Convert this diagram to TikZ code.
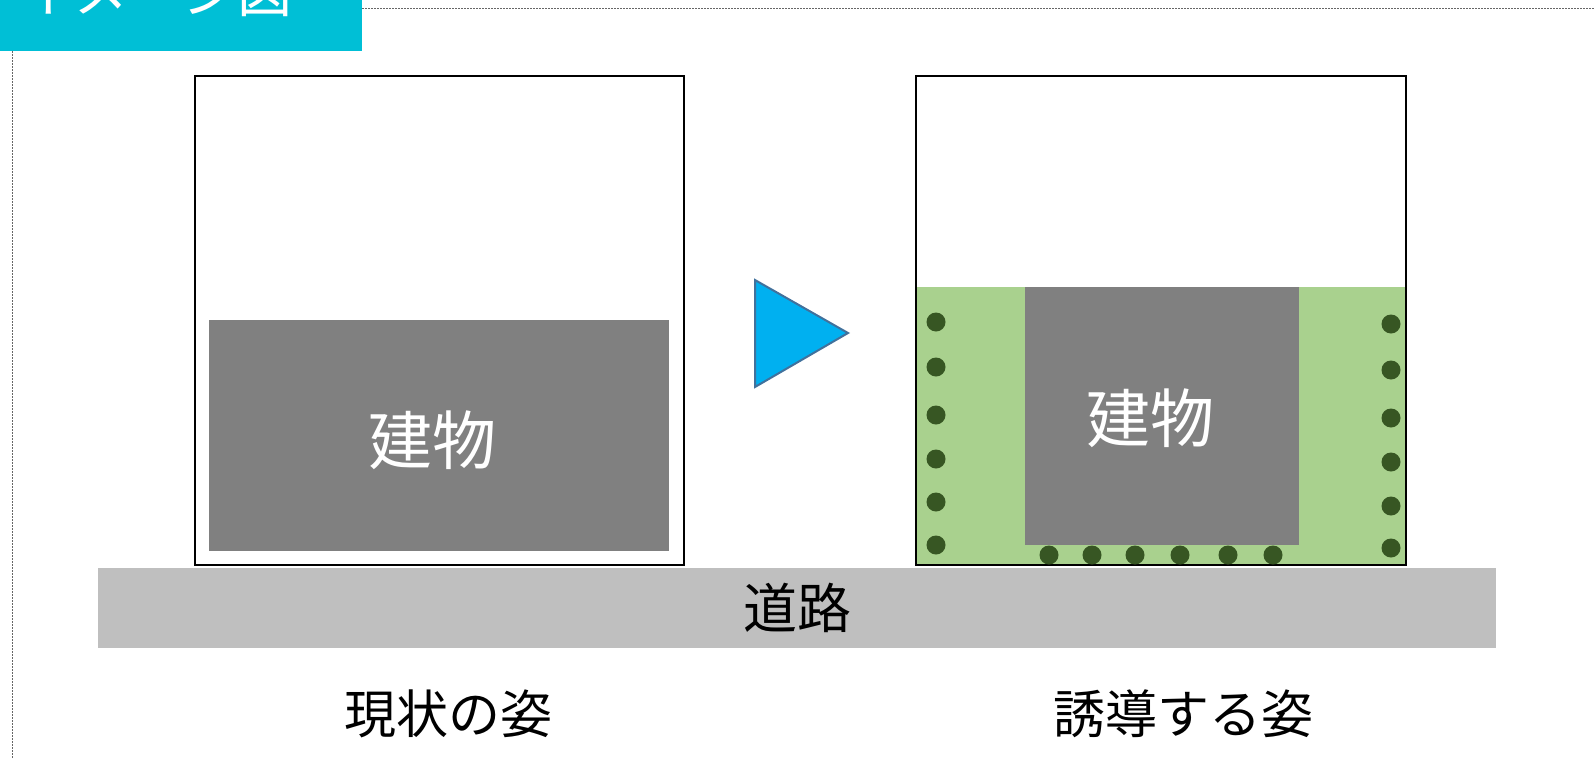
\documentclass[tikz,border=0pt]{standalone}
\usepackage{fontspec}
\newfontfamily\jpfont{Noto Sans CJK JP}
\definecolor{titlecyan}{RGB}{0,191,214}
\definecolor{arrowblue}{RGB}{0,176,240}
\definecolor{arrowedge}{RGB}{65,113,156}
\definecolor{lawn}{RGB}{169,209,142}
\definecolor{tree}{RGB}{55,86,35}
\definecolor{bldg}{RGB}{128,128,128}
\definecolor{road}{RGB}{191,191,191}
\tikzset{
  lot/.style={line width=2.5pt, draw=black},
  guide/.style={line width=0.8pt, color=black!60, dash pattern=on 2pt off 1pt},
  tree/.style={fill=tree},
  jp/.style={inner sep=0pt, font=\jpfont},
}

\begin{document}
\begin{tikzpicture}[x=1pt, y=-1pt]
	%%%%% START %%%%%
	\useasboundingbox (0, 0) rectangle (1594, 758);
	\clip (0, 0) rectangle (1594, 758);
	
	% title tab and guide lines
	\fill[titlecyan] (0, -5) rectangle (362, 51);
	\node[jp, anchor=base west, text=white, font=\jpfont\fontsize{55}{60}\selectfont] (title) at (18, 12) {イメージ図};
	\draw[guide] (362, 8) -- (1594, 8);
	\draw[guide] (12, 51) -- (12, 758);
	
	% road
	\fill[road] (98, 568) rectangle (1496, 648);
	\node[jp, font=\jpfont\fontsize{54}{60}\selectfont] (roadlabel) at (797, 608) {道路};
	
	% current state
	\draw[lot, fill=white] (195, 76) rectangle (684, 565);
	\fill[bldg] (209, 320) rectangle (669, 551);
	\node[jp, text=white, font=\jpfont\fontsize{64}{70}\selectfont] (bldgA) at (432, 440) {建物};
	
	% arrow
	\draw[line width=2pt, draw=arrowedge, fill=arrowblue, line join=miter] (755, 280) -- (848, 333) -- (755, 387) -- cycle;
	
	% target state
	\draw[lot, fill=white] (916, 76) rectangle (1406, 565);
	\fill[lawn] (917.25, 287) rectangle (1404.75, 563.75);
	\fill[bldg] (1025, 287) rectangle (1299, 545);
	\node[jp, text=white, font=\jpfont\fontsize{64}{70}\selectfont] (bldgB) at (1150, 418) {建物};
	
	\fill[tree] (936, 322) circle (9.5pt);
	\fill[tree] (936, 367) circle (9.5pt);
	\fill[tree] (936, 415) circle (9.5pt);
	\fill[tree] (936, 459) circle (9.5pt);
	\fill[tree] (936, 502) circle (9.5pt);
	\fill[tree] (936, 545) circle (9.5pt);
	
	\fill[tree] (1391, 324) circle (9.5pt);
	\fill[tree] (1391, 370) circle (9.5pt);
	\fill[tree] (1391, 418) circle (9.5pt);
	\fill[tree] (1391, 462) circle (9.5pt);
	\fill[tree] (1391, 506) circle (9.5pt);
	\fill[tree] (1391, 548) circle (9.5pt);
	
	\fill[tree] (1049, 555) circle (9.5pt);
	\fill[tree] (1092, 555) circle (9.5pt);
	\fill[tree] (1135, 555) circle (9.5pt);
	\fill[tree] (1180, 555) circle (9.5pt);
	\fill[tree] (1228, 555) circle (9.5pt);
	\fill[tree] (1273, 555) circle (9.5pt);
	
	% captions
	\node[jp, font=\jpfont\fontsize{52}{58}\selectfont] (capA) at (448, 714) {現状の姿};
	\node[jp, font=\jpfont\fontsize{52}{58}\selectfont] (capB) at (1183, 714) {誘導する姿};
	%%%%% END %%%%%
\end{tikzpicture}
\end{document}
